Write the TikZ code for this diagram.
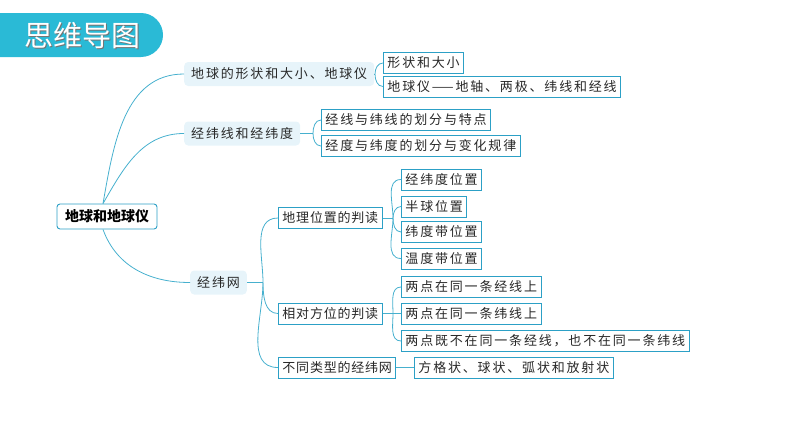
\documentclass[tikz,border=0pt]{standalone}
\usepackage{fontspec}
\newfontfamily\cjk[LetterSpace=14]{Noto Sans CJK SC}
\newfontfamily\cjkmid[LetterSpace=6]{Noto Sans CJK SC}
\newfontfamily\cjkroot{Noto Sans CJK SC}
\definecolor{bannerc}{RGB}{42,186,214}
\definecolor{linec}{RGB}{70,176,206}
\definecolor{boxc}{RGB}{44,160,198}
\definecolor{lightc}{RGB}{231,244,250}
\definecolor{textc}{RGB}{40,40,40}
\begin{document}
\begin{tikzpicture}[x=1pt,y=-1pt,
  conn/.style={draw=linec, line width=0.8pt},
  leaf/.style={draw=boxc, line width=0.9pt, fill=white, anchor=west, inner xsep=4pt, inner ysep=0pt, minimum height=21pt, text=textc, font=\cjk\fontsize{13}{15}\selectfont},
  midleaf/.style={leaf, font=\cjkmid\fontsize{13}{15}\selectfont},
  topic/.style={fill=lightc, rounded corners=4pt, anchor=west, inner xsep=7pt, inner ysep=0pt, minimum height=24pt, text=textc, font=\cjk\fontsize{13}{15}\selectfont},
  rootbox/.style={draw=boxc, line width=0.9pt, fill=white, rounded corners=3pt, minimum width=100pt, minimum height=25pt, inner sep=0pt, text=black, font=\cjkroot\bfseries\fontsize{14}{16}\selectfont}]
\useasboundingbox (0,0) rectangle (794,447);
\fill[bannerc, rounded corners=22pt] (-40,13) rectangle (163,57);
\node[text=black!55, font=\cjkroot\fontsize{29}{31}\selectfont] at (83,37) {思维导图};
\node[text=white, font=\cjkroot\fontsize{29}{31}\selectfont] (title) at (82,36) {思维导图};

\node [rootbox] (root) at (107,216.5) {地球和地球仪};

\node [topic] (t1) at (184,74) {地球的形状和大小、地球仪};
\node [topic] (t2) at (184,133.5) {经纬线和经纬度};
\node [topic] (t3) at (190,282.5) {经纬网};

\node [leaf] (a1) at (383,63) {形状和大小};
\node [leaf] (a2) at (383,86.5) {地球仪——地轴、两极、纬线和经线};
\node [leaf] (b1) at (321,120) {经线与纬线的划分与特点};
\node [leaf] (b2) at (321,146) {经度与纬度的划分与变化规律};

\node [midleaf] (c1) at (278,218) {地理位置的判读};
\node [midleaf] (c2) at (278,313.5) {相对方位的判读};
\node [midleaf] (c3) at (278,367.5) {不同类型的经纬网};

\node [leaf] (d1) at (401,179.5) {经纬度位置};
\node [leaf] (d2) at (401,206.5) {半球位置};
\node [leaf] (d3) at (401,232) {纬度带位置};
\node [leaf] (d4) at (401,258.5) {温度带位置};

\node [leaf] (e1) at (401,287) {两点在同一条经线上};
\node [leaf] (e2) at (401,313.5) {两点在同一条纬线上};
\node [leaf] (e3) at (401,341) {两点既不在同一条经线，也不在同一条纬线};

\node [leaf] (f1) at (414,367.5) {方格状、球状、弧状和放射状};

\coordinate (j1) at (375,74);
\coordinate (j2) at (313,133.5);
\coordinate (j3) at (263,282.5);
\coordinate (j4) at (393,218);
\coordinate (j5) at (393,313.5);

\draw [conn] ([xshift=-4pt]root.north) to[out=80,in=180] (t1.west);
\draw [conn] ([xshift=-4pt]root.north) to[out=60,in=180] (t2.west);
\draw [conn] ([xshift=-4pt]root.south) to[out=-70,in=180] (t3.west);

\draw [conn] (t1.east) -- (j1);
\draw [conn] (j1) to[out=90,in=180] (a1.west);
\draw [conn] (j1) to[out=-90,in=180] (a2.west);
\draw [conn] (t2.east) -- (j2);
\draw [conn] (j2) to[out=90,in=180] (b1.west);
\draw [conn] (j2) to[out=-90,in=180] (b2.west);

\draw [conn] (t3.east) -- (j3);
\draw [conn] (j3) to[out=90,in=180] (c1.west);
\draw [conn] (j3) to[out=-90,in=180] (c2.west);
\draw [conn] (j3) to[out=-90,in=180] (c3.west);

\draw [conn] (c1.east) -- (j4);
\draw [conn] (j4) to[out=90,in=180] (d1.west);
\draw [conn] (j4) to[out=90,in=180] (d2.west);
\draw [conn] (j4) to[out=-90,in=180] (d3.west);
\draw [conn] (j4) to[out=-90,in=180] (d4.west);

\draw [conn] (c2.east) -- (j5);
\draw [conn] (j5) to[out=90,in=180] (e1.west);
\draw [conn] (j5) -- (e2.west);
\draw [conn] (j5) to[out=-90,in=180] (e3.west);

\draw [conn] (c3.east) -- (f1.west);
\end{tikzpicture}
\end{document}
